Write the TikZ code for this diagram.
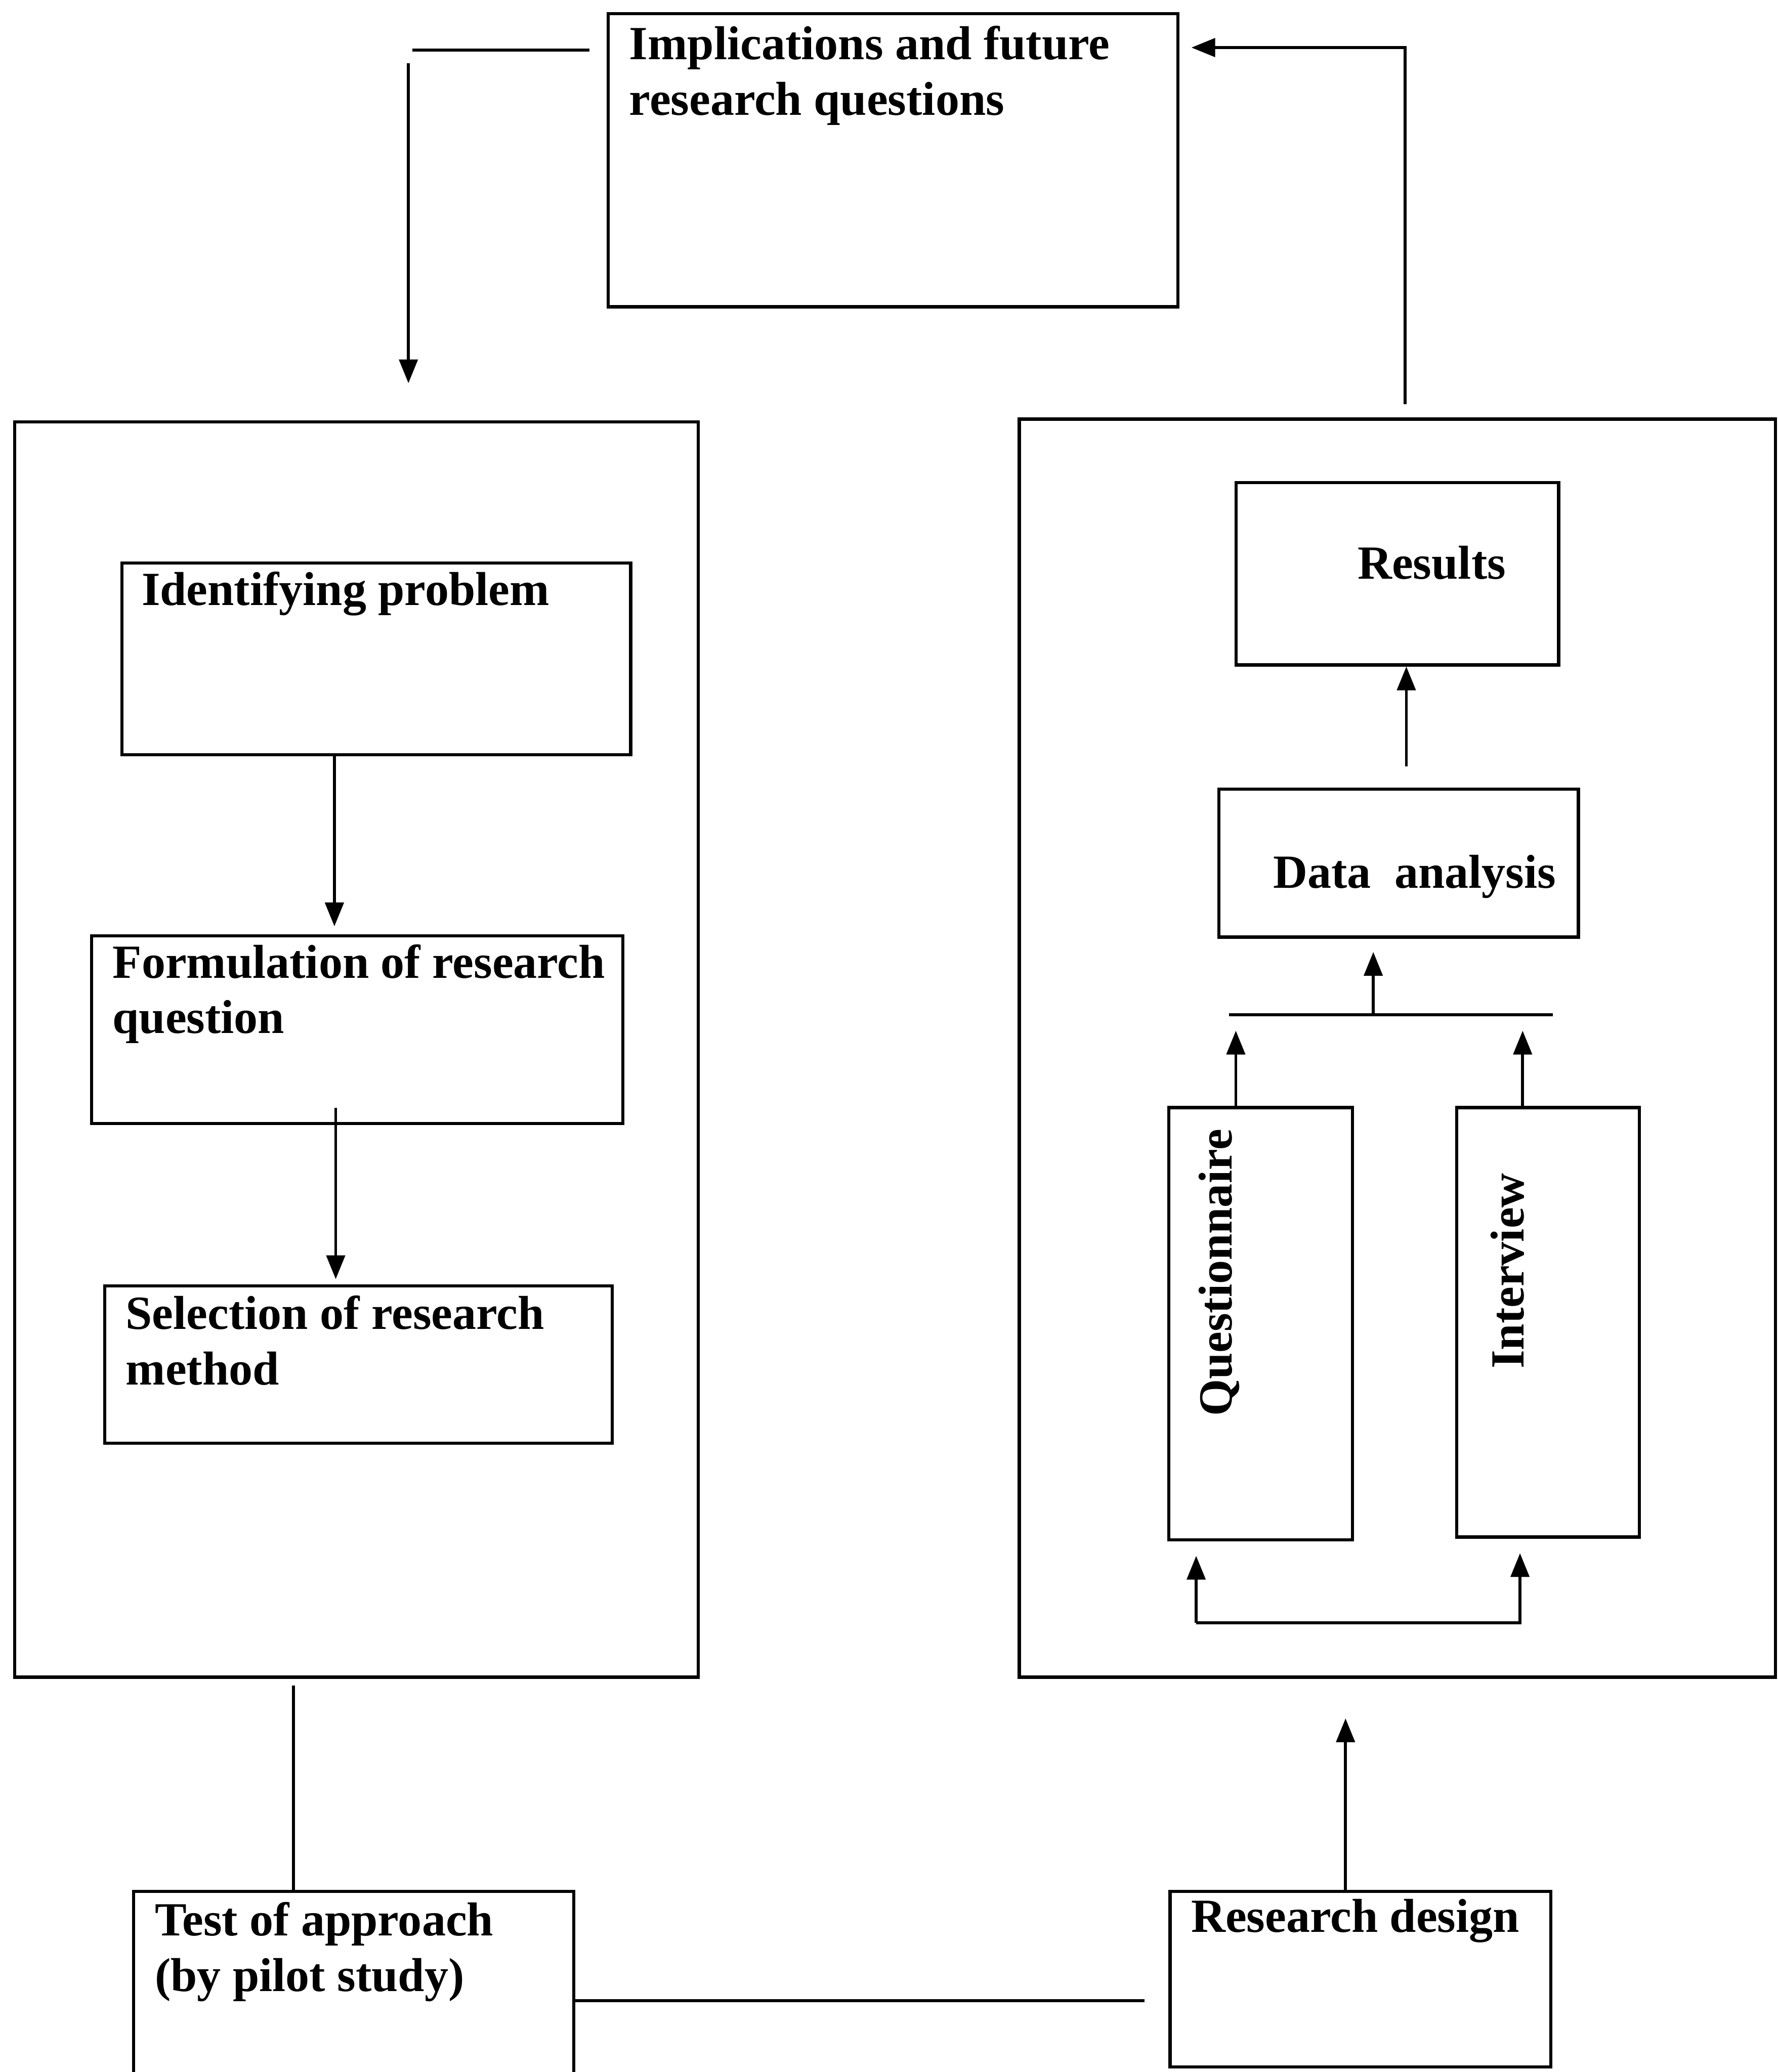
\documentclass[tikz,border=0pt]{standalone}
\usepackage{fontspec}
\setmainfont{Liberation Serif}
\usetikzlibrary{arrows.meta}
\begin{document}
\begin{tikzpicture}[x=1pt,y=-1pt,
  box/.style={draw, line width=2.4pt, inner sep=0pt, anchor=north west},
  lbl/.style={anchor=base west, inner sep=0pt, font=\fontsize{36}{42}\selectfont\bfseries, align=left},
  ln/.style={line width=2.2pt},
  arr/.style={line width=2.2pt, -{Triangle[length=18pt,width=14pt]}}]
\useasboundingbox (0,0) rectangle (1345,1568);
% boxes
\node[box, minimum width=431pt, minimum height=222pt] (impl) at (459,9) {};
\node[box, minimum width=517pt, minimum height=950pt] (lp) at (10,318) {};
\node[box, minimum width=385pt, minimum height=145pt] (ident) at (91,425) {};
\node[box, minimum width=402pt, minimum height=142pt] (form) at (68,707) {};
\node[box, minimum width=384pt, minimum height=119pt] (sel) at (78,972) {};
\node[box, minimum width=572pt, minimum height=952pt] (rp) at (770,316) {};
\node[box, minimum width=244pt, minimum height=138pt] (res) at (934,364) {};
\node[box, minimum width=272pt, minimum height=112pt] (data) at (921,596) {};
\node[box, minimum width=139pt, minimum height=327pt] (quest) at (883,837) {};
\node[box, minimum width=138pt, minimum height=325pt] (inter) at (1101,837) {};
\node[box, minimum width=333pt, minimum height=170pt] (test) at (100,1430) {};
\node[box, minimum width=288pt, minimum height=133pt] (design) at (884,1430) {};
% texts (base west of a two-line text is the baseline of its last line)
\node[lbl] (implt) at (476,87) {Implications and future\\research questions};
\node[lbl] (identt) at (107,458) {Identifying problem};
\node[lbl] (formt) at (85,782) {Formulation of research\\question};
\node[lbl] (selt) at (95,1048) {Selection of research\\method};
\node[lbl] (rest) at (1027,438) {Results};
\node[lbl] (datat) at (963,672) {Data\ \ analysis};
\node[lbl, rotate=90] (questt) at (932,1072) {Questionnaire};
\node[lbl, rotate=90] (intert) at (1153,1036) {Interview};
\node[lbl] (testt) at (117,1507) {Test of approach\\(by pilot study)};
\node[lbl] (designt) at (901,1462) {Research design};
% connectors
\coordinate (a1) at (253,0);
\draw[arr, shorten >=6pt] (ident.south -| a1) -- (form.north -| a1);
\coordinate (a2) at (254,0);
\draw[arr, shorten <=-13pt, shorten >=4pt] (form.south -| a2) -- (sel.north -| a2);
\coordinate (a3) at (1064,0);
\draw[arr, shorten <=16pt] (data.north -| a3) -- (res.south -| a3);
\coordinate (barL) at (930,768);
\coordinate (barR) at (1175,768);
\draw[ln] (barL) -- (barR);
\coordinate (a4) at (1039,768);
\draw[arr, shorten >=10pt] (a4) -- (data.south -| a4);
\coordinate (a5) at (935,0);
\draw[arr, shorten >=12pt] (quest.north -| a5) -- (barL -| a5);
\coordinate (a6) at (1152,0);
\draw[arr, shorten >=12pt] (inter.north -| a6) -- (barL -| a6);
\coordinate (b1) at (905,1228);
\coordinate (b2) at (1150,1228);
\draw[arr, shorten >=11pt] (b1) -- (quest.south -| b1);
\draw[arr, shorten >=11pt] (b1) -- (b2) -- (inter.south -| b2);
\coordinate (r1) at (1063,36);
\draw[arr, shorten <=10pt, shorten >=9pt] (rp.north -| r1) -- (r1) -- (impl.east |- r1);
\coordinate (l1) at (312,38);
\draw[ln, shorten <=13pt] (impl.west |- l1) -- (l1);
\coordinate (l2) at (309,48);
\draw[arr, shorten >=28pt] (l2) -- (lp.north -| l2);
\coordinate (t1) at (222,0);
\draw[ln, shorten <=5pt] (lp.south -| t1) -- (test.north -| t1);
\coordinate (t2) at (0,1514);
\draw[ln, shorten >=18pt] (test.east |- t2) -- (design.west |- t2);
\coordinate (t3) at (1018,0);
\draw[arr, shorten >=30pt] (design.north -| t3) -- (rp.south -| t3);
\end{tikzpicture}
\end{document}
